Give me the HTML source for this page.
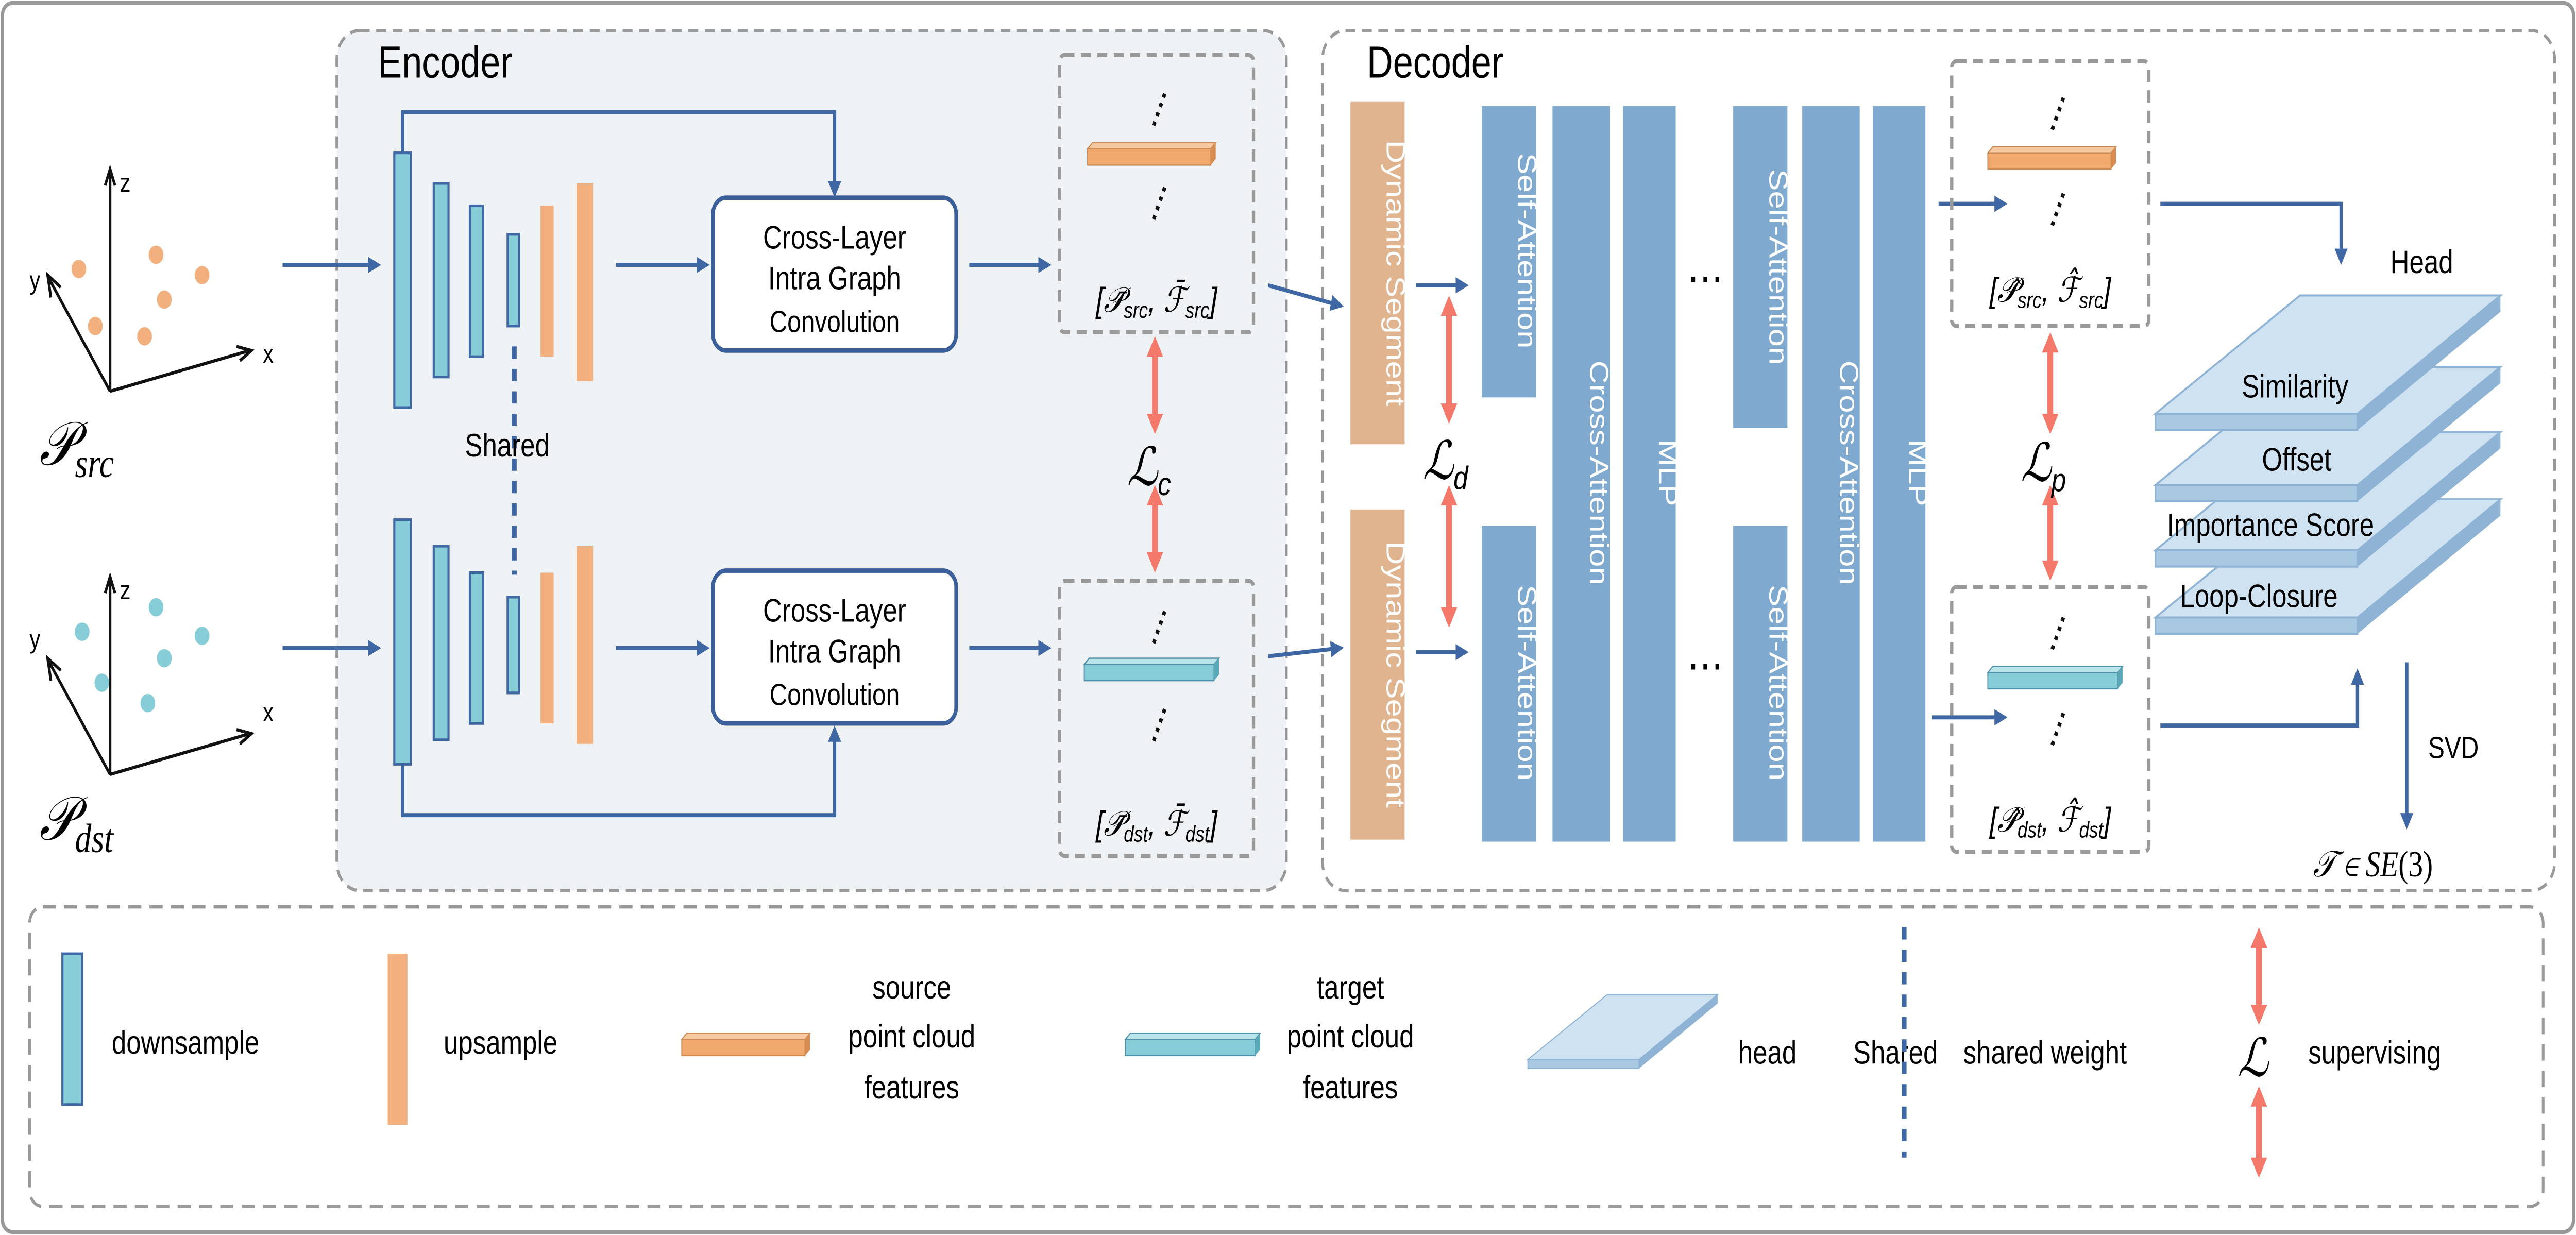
<!DOCTYPE html>
<html><head><meta charset="utf-8"><style>
html,body{margin:0;padding:0;background:#fff;overflow:hidden;width:100vw;height:100vh;}
svg{display:block;width:100vw;height:100vh;}
text{font-family:"Liberation Sans",sans-serif;}
.m{font-family:"Liberation Serif",serif;font-style:italic;}
</style></head><body>
<svg viewBox="0 0 1568 606" preserveAspectRatio="none" xmlns="http://www.w3.org/2000/svg">
<defs>
<marker id="ab" markerWidth="8" markerHeight="8" refX="6" refY="4" orient="auto" markerUnits="userSpaceOnUse"><path d="M0,0 L8,4 L0,8 z" fill="#3f67a3"/></marker>
<marker id="ar" markerWidth="10" markerHeight="10" refX="7" refY="5" orient="auto" markerUnits="userSpaceOnUse"><path d="M0,0 L10,5 L0,10 z" fill="#f4796b"/></marker>
<marker id="ar2" markerWidth="10" markerHeight="10" refX="3" refY="5" orient="auto-start-reverse" markerUnits="userSpaceOnUse"><path d="M0,0 L10,5 L0,10 z" fill="#f4796b"/></marker>
<g id="obar"><polygon points="0,3 3,0 78,0 75,3" fill="#f7c9a0" stroke="#c98a55" stroke-width="0.6"/><rect x="0" y="3" width="75" height="8" fill="#f2a96e" stroke="#c98a55" stroke-width="0.6"/><polygon points="75,3 78,0 78,8 75,11" fill="#d98c4f"/></g>
<g id="tbar"><polygon points="0,3 3,0 82,0 79,3" fill="#b8e4ea" stroke="#4f8fa8" stroke-width="0.6"/><rect x="0" y="3" width="79" height="8" fill="#86cdd8" stroke="#4f8fa8" stroke-width="0.6"/><polygon points="79,3 82,0 82,8 79,11" fill="#5aa9b8"/></g>
<g id="slab"><polygon points="88,0 210,0 123,58 0,58" fill="#cfe2f2" stroke="#8fb3d4" stroke-width="1"/><polygon points="0,58 123,58 123,66 0,66" fill="#a9c8e2" stroke="#8fb3d4" stroke-width="1"/><polygon points="123,58 210,0 210,8 123,66" fill="#8fb3d4"/></g>
</defs>
<rect x="1.5" y="1.5" width="1565" height="603" rx="6" fill="#fff" stroke="#9a9a9a" stroke-width="2"/>
<rect x="205" y="15" width="578" height="422" rx="14" fill="#eef2f5" stroke="#999" stroke-width="1.6" stroke-dasharray="6,4"/>
<rect x="805" y="15" width="750" height="422" rx="14" fill="#fff" stroke="#999" stroke-width="1.6" stroke-dasharray="6,4"/>
<rect x="18" y="445" width="1530" height="147" rx="8" fill="#fff" stroke="#999" stroke-width="1.6" stroke-dasharray="8,5"/>
<text x="230" y="38" font-size="22">Encoder</text>
<text x="832" y="38" font-size="22">Decoder</text>

<g stroke="#111" stroke-width="1.6" fill="none">
<path d="M67,192 L67,85 M64,91 L67,83 L70,91"/><path d="M67,192 L152,172 M144,170 L153,172 L146,177"/><path d="M67,192 L30,137 M31,146 L29,135 L37,141"/>
<path d="M67,380 L67,285 M64,291 L67,283 L70,291"/><path d="M67,380 L152,360 M144,358 L153,360 L146,365"/><path d="M67,380 L30,325 M31,334 L29,323 L37,329"/>
</g>
<text x="73" y="94" font-size="13">z</text><text x="160" y="178" font-size="13">x</text><text x="18" y="142" font-size="13">y</text>
<text x="73" y="294" font-size="13">z</text><text x="160" y="354" font-size="13">x</text><text x="18" y="318" font-size="13">y</text>
<g fill="#f2b07e"><circle cx="95" cy="125" r="4.5"/><circle cx="123" cy="135" r="4.5"/><circle cx="58" cy="160" r="4.5"/><circle cx="100" cy="147" r="4.5"/><circle cx="88" cy="165" r="4.5"/><circle cx="48" cy="132" r="4.5"/></g>
<g fill="#86cdd8"><circle cx="95" cy="298" r="4.5"/><circle cx="123" cy="312" r="4.5"/><circle cx="62" cy="335" r="4.5"/><circle cx="100" cy="323" r="4.5"/><circle cx="90" cy="345" r="4.5"/><circle cx="50" cy="310" r="4.5"/></g>
<text x="24" y="228" class="m" font-size="30">𝒫<tspan font-size="20" dy="6">src</tspan></text>
<text x="24" y="412" class="m" font-size="30">𝒫<tspan font-size="20" dy="6">dst</tspan></text>

<g stroke="#3f67a3" stroke-width="2" fill="none" marker-end="url(#ab)">
<path d="M172,130 L230,130"/><path d="M172,318 L230,318"/>
<path d="M245,75 L245,55 L508,55 L508,95"/><path d="M245,375 L245,400 L508,400 L508,358"/>
<path d="M375,130 L430,130"/><path d="M375,318 L430,318"/>
<path d="M590,130 L638,130"/><path d="M590,318 L638,318"/>
<path d="M772,140 L816,150"/><path d="M772,322 L816,318"/>
<path d="M862,140 L892,140"/><path d="M862,320 L892,320"/>
<path d="M1180,100 L1220,100"/><path d="M1176,352 L1220,352"/>
<path d="M1315,100 L1425,100 L1425,128"/><path d="M1315,356 L1435,356 L1435,330"/>
<path d="M1465,325 L1465,405"/>
</g>

<g stroke="#3f67a3" stroke-width="1.3">
<rect x="240" y="75" width="10" height="125" fill="#86cdd8"/><rect x="264" y="90" width="9" height="95" fill="#86cdd8"/><rect x="286" y="101" width="8" height="74" fill="#86cdd8"/><rect x="309" y="115" width="7" height="45" fill="#86cdd8"/>
<rect x="240" y="255" width="10" height="120" fill="#86cdd8"/><rect x="264" y="268" width="9" height="95" fill="#86cdd8"/><rect x="286" y="281" width="8" height="74" fill="#86cdd8"/><rect x="309" y="293" width="7" height="47" fill="#86cdd8"/>
</g>
<g fill="#f2b07e"><rect x="329" y="101" width="8" height="74"/><rect x="351" y="90" width="10" height="97"/><rect x="329" y="281" width="8" height="74"/><rect x="351" y="268" width="10" height="97"/></g>
<line x1="313" y1="170" x2="313" y2="282" stroke="#3f67a3" stroke-width="3" stroke-dasharray="6,5"/>
<text x="283" y="224" font-size="16">Shared</text>
<g fill="#fff" stroke="#3b5f9a" stroke-width="2.2"><rect x="434" y="97" width="148" height="75" rx="8"/><rect x="434" y="280" width="148" height="75" rx="8"/></g>
<g font-size="16" text-anchor="middle"><text x="508" y="122">Cross-Layer</text><text x="508" y="142">Intra Graph</text><text x="508" y="163" font-size="15">Convolution</text>
<text x="508" y="305">Cross-Layer</text><text x="508" y="325">Intra Graph</text><text x="508" y="346" font-size="15">Convolution</text></g>

<g fill="none" stroke="#9a9a9a" stroke-width="2" stroke-dasharray="6,4">
<rect x="645" y="27" width="118" height="136" rx="3"/><rect x="645" y="285" width="118" height="135" rx="3"/>
<rect x="1188" y="30" width="120" height="130" rx="3"/><rect x="1188" y="288" width="120" height="130" rx="3"/>
</g>
<use href="#obar" x="662" y="70"/><use href="#tbar" x="660" y="323"/>
<use href="#obar" x="1210" y="72"/><use href="#tbar" x="1210" y="327"/>
<g stroke="#111" stroke-width="2.2" stroke-dasharray="2,3"><line x1="709" y1="46" x2="702" y2="62"/><line x1="709" y1="92" x2="702" y2="108"/><line x1="709" y1="300" x2="702" y2="316"/><line x1="709" y1="348" x2="702" y2="364"/>
<line x1="1256" y1="48" x2="1249" y2="64"/><line x1="1256" y1="95" x2="1249" y2="111"/><line x1="1256" y1="303" x2="1249" y2="319"/><line x1="1256" y1="350" x2="1249" y2="366"/></g>
<g class="m" font-size="17" text-anchor="middle"><text x="704" y="153">[𝒫̄<tspan font-size="11" dy="3">src</tspan><tspan dy="-3">, ℱ̄</tspan><tspan font-size="11" dy="3">src</tspan><tspan dy="-3">]</tspan></text>
<text x="704" y="410">[𝒫̄<tspan font-size="11" dy="3">dst</tspan><tspan dy="-3">, ℱ̄</tspan><tspan font-size="11" dy="3">dst</tspan><tspan dy="-3">]</tspan></text>
<text x="1248" y="148">[𝒫̂<tspan font-size="11" dy="3">src</tspan><tspan dy="-3">, ℱ̂</tspan><tspan font-size="11" dy="3">src</tspan><tspan dy="-3">]</tspan></text>
<text x="1248" y="408">[𝒫̂<tspan font-size="11" dy="3">dst</tspan><tspan dy="-3">, ℱ̂</tspan><tspan font-size="11" dy="3">dst</tspan><tspan dy="-3">]</tspan></text></g>

<g stroke="#f4796b" stroke-width="3.5" marker-end="url(#ar)" marker-start="url(#ar2)">
<line x1="703" y1="172" x2="703" y2="210"/><line x1="703" y1="245" x2="703" y2="278"/>
<line x1="882" y1="152" x2="882" y2="205"/><line x1="882" y1="245" x2="882" y2="305"/>
<line x1="1248" y1="170" x2="1248" y2="210"/><line x1="1248" y1="245" x2="1248" y2="282"/>
<line x1="1375" y1="462" x2="1375" y2="500"/><line x1="1375" y1="540" x2="1375" y2="575"/>
</g>
<g class="m" font-size="26"><text x="686" y="238">ℒ<tspan font-size="16" dy="5">c</tspan></text><text x="866" y="235">ℒ<tspan font-size="16" dy="5">d</tspan></text><text x="1230" y="236">ℒ<tspan font-size="16" dy="5">p</tspan></text><text x="1362" y="528">ℒ</text></g>

<g fill="#e0b48f"><rect x="822" y="50" width="33" height="168"/><rect x="822" y="250" width="33" height="162"/></g>
<g fill="#7fa9cf"><rect x="902" y="52" width="33" height="143"/><rect x="902" y="258" width="33" height="155"/><rect x="945" y="52" width="35" height="361"/><rect x="988" y="52" width="32" height="361"/>
<rect x="1055" y="52" width="33" height="158"/><rect x="1055" y="258" width="33" height="155"/><rect x="1097" y="52" width="35" height="361"/><rect x="1140" y="52" width="32" height="361"/></g>
<g font-size="16" fill="#fff" text-anchor="middle">
<text transform="translate(844,134) rotate(90)">Dynamic Segment</text><text transform="translate(844,331) rotate(90)">Dynamic Segment</text>
<text transform="translate(924,123) rotate(90)">Self-Attention</text><text transform="translate(924,335) rotate(90)">Self-Attention</text>
<text transform="translate(968,232) rotate(90)">Cross-Attention</text><text transform="translate(1010,232) rotate(90)">MLP</text>
<text transform="translate(1077,131) rotate(90)">Self-Attention</text><text transform="translate(1077,335) rotate(90)">Self-Attention</text>
<text transform="translate(1120,232) rotate(90)">Cross-Attention</text><text transform="translate(1162,232) rotate(90)">MLP</text>
</g>
<text x="1038" y="144" font-size="22" text-anchor="middle">⋯</text><text x="1038" y="334" font-size="22" text-anchor="middle">⋯</text>

<text x="1455" y="134" font-size="16">Head</text>
<use href="#slab" x="1312" y="245"/><use href="#slab" x="1312" y="212"/><use href="#slab" x="1312" y="180"/><use href="#slab" x="1312" y="145"/>
<g font-size="16" text-anchor="middle"><text x="1397" y="195">Similarity</text><text x="1398" y="231">Offset</text><text x="1382" y="263">Importance Score</text><text x="1375" y="298">Loop-Closure</text></g>
<text x="1478" y="372" font-size="15">SVD</text>
<text x="1408" y="430" class="m" font-size="18">𝒯 ∈ <tspan>SE</tspan><tspan font-style="normal">(3)</tspan></text>

<rect x="38" y="468" width="12" height="74" fill="#86cdd8" stroke="#3f67a3" stroke-width="1.3"/>
<text x="68" y="517" font-size="16">downsample</text>
<rect x="236" y="468" width="12" height="84" fill="#f2b07e"/>
<text x="270" y="517" font-size="16">upsample</text>
<use href="#obar" x="415" y="507"/>
<g font-size="16" text-anchor="middle"><text x="555" y="490">source</text><text x="555" y="514">point cloud</text><text x="555" y="539">features</text>
<text x="822" y="490">target</text><text x="822" y="514">point cloud</text><text x="822" y="539">features</text></g>
<use href="#tbar" x="685" y="507"/>
<g transform="translate(930,488) scale(0.55,0.55)"><use href="#slab"/></g>
<text x="1058" y="522" font-size="16">head</text>
<text x="1128" y="522" font-size="16">Shared</text>
<line x1="1159" y1="455" x2="1159" y2="568" stroke="#3f67a3" stroke-width="3" stroke-dasharray="6,5"/>
<text x="1195" y="522" font-size="16">shared weight</text>
<text x="1405" y="522" font-size="16">supervising</text>
</svg>
</body></html>
